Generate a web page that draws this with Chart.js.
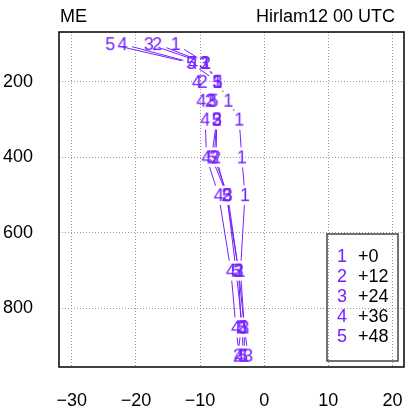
<!DOCTYPE html>
<html>
<head>
<meta charset="utf-8">
<script src="https://cdn.jsdelivr.net/npm/chart.js@4/dist/chart.umd.min.js"></script>
<style>
  html, body { margin: 0; padding: 0; background: #fff; overflow: hidden; }
  canvas { display: block; }
</style>
</head>
<body>
<canvas id="myChart" width="409" height="413"></canvas>
<script>
// pressure levels (hPa) and wind component per forecast lead
const levels = [100, 150, 200, 250, 300, 400, 500, 700, 850, 925];
const lead0  = [-13.8, -9.1, -7.3, -5.6, -3.9, -3.5, -3.0, -3.7, -3.1, -3.1];
const lead12 = [-16.7, -9.1, -9.6, -8.5, -7.4, -7.5, -5.9, -4.0, -3.6, -4.1];
const lead24 = [-18.0, -9.4, -7.3, -8.2, -7.4, -7.8, -5.7, -4.0, -3.1, -2.5];
const lead36 = [-22.1, -11.1, -10.5, -9.8, -9.2, -9.0, -7.1, -5.2, -4.4, -3.9];
const lead48 = [-24.0, -11.4, -7.3, -7.9, -7.4, -8.2, -5.8, -4.4, -3.4, -3.3];
const leadLabels = ["+0", "+12", "+24", "+36", "+48"];
const markers = ["1", "2", "3", "4", "5"];
const xTicks = [-30, -20, -10, 0, 10, 20];
const yTicks = [200, 400, 600, 800];

const purple = "#7420ff";
const font = "'Liberation Sans', Arial, sans-serif";

// draw the digit used as point marker
function digitImage(txt) {
  const c = document.createElement("canvas");
  c.width = 14;
  c.height = 20;
  const g = c.getContext("2d");
  g.font = "18px " + font;
  g.fillStyle = purple;
  g.textAlign = "center";
  g.textBaseline = "middle";
  g.fillText(txt, 7, 11);
  return c;
}

const allRuns = [lead0, lead12, lead24, lead36, lead48];
const datasets = allRuns.map((run, i) => ({
  label: leadLabels[i],
  data: run.map((v, k) => ({ x: v, y: levels[k] })),
  showLine: false,
  pointStyle: digitImage(markers[i])
}));

// lines between markers, leaving a gap round each digit
const gap = 10;
const gapLines = {
  id: "gapLines",
  beforeDatasetsDraw(chart) {
    const ctx = chart.ctx;
    ctx.save();
    ctx.strokeStyle = purple;
    ctx.lineWidth = 1;
    chart.data.datasets.forEach((ds, i) => {
      const pts = chart.getDatasetMeta(i).data;
      ctx.beginPath();
      for (let k = 1; k < pts.length; k++) {
        const a = pts[k - 1], b = pts[k];
        const dx = b.x - a.x, dy = b.y - a.y;
        const len = Math.hypot(dx, dy);
        if (len <= 2 * gap) continue;
        const ux = dx / len, uy = dy / len;
        ctx.moveTo(a.x + ux * gap, a.y + uy * gap);
        ctx.lineTo(b.x - ux * gap, b.y - uy * gap);
      }
      ctx.stroke();
    });
    ctx.restore();
  }
};

// frame, titles and the boxed key
const decor = {
  id: "decor",
  afterDraw(chart) {
    const ctx = chart.ctx;
    const a = chart.chartArea;
    ctx.save();
    ctx.strokeStyle = "#000";
    ctx.lineWidth = 1.5;
    ctx.strokeRect(a.left, a.top, a.right - a.left, a.bottom - a.top);

    ctx.fillStyle = "#000";
    ctx.font = "18px " + font;
    ctx.textBaseline = "alphabetic";
    ctx.textAlign = "left";
    ctx.fillText("ME", a.left + 1, 22);
    ctx.textAlign = "right";
    ctx.fillText("Hirlam12 00 UTC", a.right - 9, 22);

    const bx = a.right - 77, by = a.bottom - 133;
    ctx.strokeStyle = "#444";
    ctx.lineWidth = 1.5;
    ctx.strokeRect(bx, by, 71, 127);
    ctx.textBaseline = "middle";
    chart.data.datasets.forEach((ds, i) => {
      const y = by + 23 + i * 20;
      ctx.textAlign = "center";
      ctx.fillStyle = purple;
      ctx.fillText(markers[i], bx + 15, y);
      ctx.textAlign = "left";
      ctx.fillStyle = "#000";
      ctx.fillText(ds.label, bx + 31, y);
    });
    ctx.restore();
  }
};

const noPad = s => {
  s.paddingLeft = 0; s.paddingRight = 0;
  s.paddingTop = 0; s.paddingBottom = 0;
};
const borderOpts = { display: false, dash: [1, 2] };

new Chart(document.getElementById("myChart").getContext("2d"), {
  type: "scatter",
  data: { datasets: datasets },
  options: {
    responsive: false,
    animation: false,
    layout: { padding: { top: 32, right: 0, left: 0, bottom: 0 } },
    plugins: { legend: { display: false }, tooltip: { enabled: false } },
    scales: {
      x: {
        type: "linear",
        min: -32,
        max: 21.8,
        afterBuildTicks: s => { s.ticks = xTicks.map(v => ({ value: v })); },
        afterFit: s => { s.height = 46; noPad(s); },
        grid: { color: "#999", lineWidth: 1, drawTicks: true, tickLength: 23,
                tickColor: "rgba(0,0,0,0)", borderDash: [1, 2] },
        border: borderOpts,
        ticks: {
          padding: 0,
          color: "#000",
          font: { family: font, size: 18 },
          maxRotation: 0,
          callback: v => (v < 0 ? "\u2212" + Math.abs(v) : String(v))
        }
      },
      y: {
        type: "linear",
        reverse: true,
        min: 68,
        max: 955,
        afterBuildTicks: s => { s.ticks = yTicks.map(v => ({ value: v })); },
        afterFit: s => { s.width = 59; noPad(s); },
        grid: { color: "#999", lineWidth: 1, drawTicks: true, tickLength: 26,
                tickColor: "rgba(0,0,0,0)", borderDash: [1, 2] },
        border: borderOpts,
        ticks: {
          padding: 0,
          color: "#000",
          font: { family: font, size: 18 },
          callback: v => String(v)
        }
      }
    }
  },
  plugins: [gapLines, decor]
});
</script>
</body>
</html>
